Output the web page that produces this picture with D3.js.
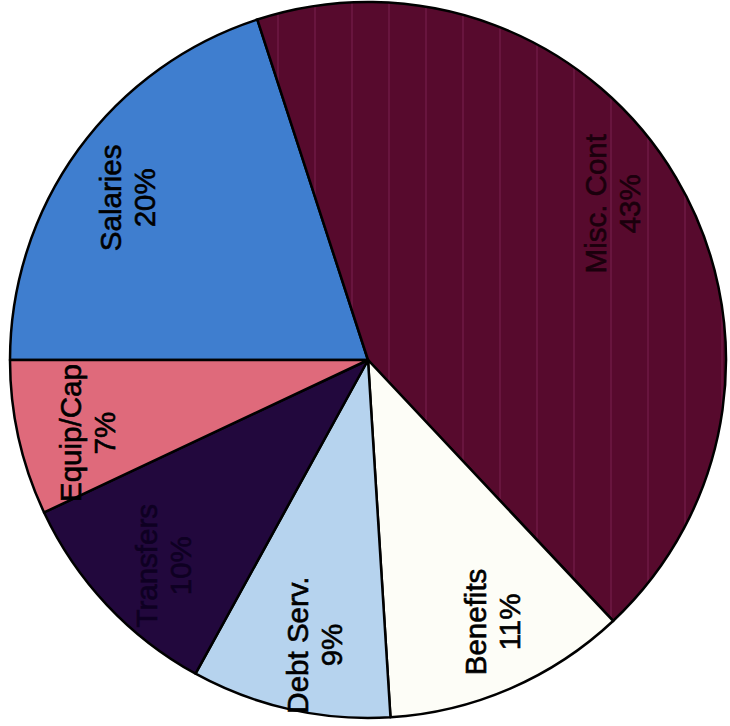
<!DOCTYPE html>
<html>
<head>
<meta charset="utf-8">
<script src="https://cdn.jsdelivr.net/npm/d3@7"></script>
<style>
  html, body { margin: 0; padding: 0; background: #ffffff; }
  svg { display: block; }
</style>
</head>
<body>
<div id="chart"></div>
<script>
// ---- data ----
const categories = ["Salaries", "Misc. Cont", "Benefits", "Debt Serv.", "Transfers", "Equip/Cap"];
const values = [20, 43, 11, 9, 10, 7];
const percentLabels = ["20%", "43%", "11%", "9%", "10%", "7%"];
const sliceColors = ["#3f7ecf", "#570a2d", "#fdfdf7", "#b6d3ee", "#22083d", "#df6a7b"];
const labelColors = ["#000000", "#1a000c", "#000000", "#000000", "#0e0022", "#000000"];

const W = 730, H = 726;
const cx = 368, cy = 360, R = 358;

const svg = d3.select("#chart").append("svg")
  .attr("width", W).attr("height", H);

// faint vertical scan-stripe texture for the large maroon slice
const defs = svg.append("defs");
const pat = defs.append("pattern")
  .attr("id", "stripes").attr("patternUnits", "userSpaceOnUse")
  .attr("width", 37).attr("height", 726);
pat.append("rect").attr("width", 37).attr("height", 726).attr("fill", sliceColors[1]);
pat.append("rect").attr("x", 20).attr("width", 2).attr("height", 726)
  .attr("fill", "#86285e").attr("opacity", 0.35);

const g = svg.append("g").attr("transform", `translate(${cx},${cy})`);

const pie = d3.pie().sort(null).value(d => d)
  .startAngle(-Math.PI / 2).endAngle(3 * Math.PI / 2);
const arcs = pie(values);

const arc = d3.arc().innerRadius(0).outerRadius(R);

g.selectAll("path.slice")
  .data(arcs)
  .join("path")
  .attr("class", "slice")
  .attr("d", arc)
  .attr("fill", (d, i) => i === 1 ? "url(#stripes)" : sliceColors[i])
  .attr("stroke", "#000")
  .attr("stroke-width", 2.5)
  .attr("stroke-linejoin", "round");

// label placement: slightly counter-clockwise of each slice's mid-angle
const labelR = R * 0.81;
const labelShift = 2 * Math.PI / 180;
function labelPos(d) {
  const a = (d.startAngle + d.endAngle) / 2 - labelShift;
  return [labelR * Math.sin(a), -labelR * Math.cos(a)];
}

const fontSize = 29.5;
const labels = g.selectAll("g.label")
  .data(arcs)
  .join("g")
  .attr("class", "label")
  .attr("transform", d => {
    const [x, y] = labelPos(d);
    return `translate(${x},${y}) rotate(-90)`;
  });

labels.append("text")
  .attr("text-anchor", "middle")
  .attr("font-family", "Liberation Sans, Arial, sans-serif")
  .attr("font-size", fontSize)
  .attr("fill", (d, i) => labelColors[i])
  .attr("stroke", (d, i) => labelColors[i])
  .attr("stroke-width", 0.6)
  .each(function(d, i) {
    const t = d3.select(this);
    t.append("tspan").attr("x", 0).attr("dy", "-0.22em").text(categories[i]);
    t.append("tspan").attr("x", 0).attr("dy", "1.15em").text(percentLabels[i]);
  });
</script>
</body>
</html>
